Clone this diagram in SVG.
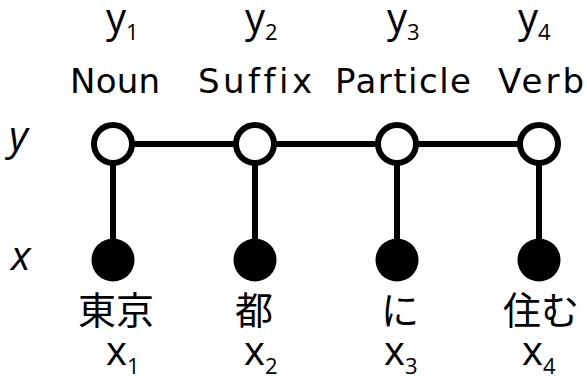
<svg xmlns="http://www.w3.org/2000/svg" width="587" height="376" viewBox="0 0 587 376">
<style>
text{font-family:"DejaVu Sans","Noto Sans CJK JP",sans-serif;fill:#000}
.lab{font-size:34px;text-anchor:middle;font-variant-ligatures:none}
.var{font-family:"Open Sans",sans-serif;font-size:40px}
.sub{font-size:22px}
.jp{font-family:"Noto Sans CJK JP",sans-serif;font-size:38px;text-anchor:middle}
.it{font-family:"Open Sans",sans-serif;font-style:italic;font-size:41px}
.edge{stroke:#000;stroke-width:6;fill:none}
.hid{fill:#fff;stroke:#000;stroke-width:6}
.obs{fill:#000}
</style>
<rect width="587" height="376" fill="#fff"/>
<text class="it" x="9" y="150">y</text>
<text class="it" x="11" y="270">x</text>
<g id="connectors">
<line class="edge" x1="113" y1="144" x2="539" y2="144"/>
<line class="edge" x1="113" y1="144" x2="113" y2="260"/>
<line class="edge" x1="255" y1="144" x2="255" y2="260"/>
<line class="edge" x1="397" y1="144" x2="397" y2="260"/>
<line class="edge" x1="539" y1="144" x2="539" y2="260"/>
</g>
<g id="y1">
<text class="var" x="106" y="32">y<tspan class="sub" dy="8">1</tspan></text>
<text class="lab" x="115" y="93" textLength="90">Noun</text>
<circle class="hid" cx="113" cy="144" r="19"/>
</g>
<g id="y2">
<text class="var" x="245" y="32">y<tspan class="sub" dy="8">2</tspan></text>
<text class="lab" x="255" y="93" textLength="114">Suffix</text>
<circle class="hid" cx="255" cy="144" r="19"/>
</g>
<g id="y3">
<text class="var" x="387" y="32">y<tspan class="sub" dy="8">3</tspan></text>
<text class="lab" x="403" y="93" textLength="136">Particle</text>
<circle class="hid" cx="397" cy="144" r="19"/>
</g>
<g id="y4">
<text class="var" x="518" y="32">y<tspan class="sub" dy="8">4</tspan></text>
<text class="lab" x="541" y="93" textLength="86">Verb</text>
<circle class="hid" cx="539" cy="144" r="19"/>
</g>
<g id="x1">
<circle class="obs" cx="113" cy="260" r="21.5"/>
<text class="jp" x="116" y="324">東京</text>
<text class="var" x="106" y="365">x<tspan class="sub" dy="9">1</tspan></text>
</g>
<g id="x2">
<circle class="obs" cx="255" cy="260" r="21.5"/>
<text class="jp" x="254" y="324">都</text>
<text class="var" x="244" y="365">x<tspan class="sub" dy="9">2</tspan></text>
</g>
<g id="x3">
<circle class="obs" cx="397" cy="260" r="21.5"/>
<text class="jp" x="400" y="324">に</text>
<text class="var" x="384" y="365">x<tspan class="sub" dy="9">3</tspan></text>
</g>
<g id="x4">
<circle class="obs" cx="539" cy="260" r="21.5"/>
<text class="jp" x="541" y="324">住む</text>
<text class="var" x="522" y="365">x<tspan class="sub" dy="9">4</tspan></text>
</g>
</svg>
